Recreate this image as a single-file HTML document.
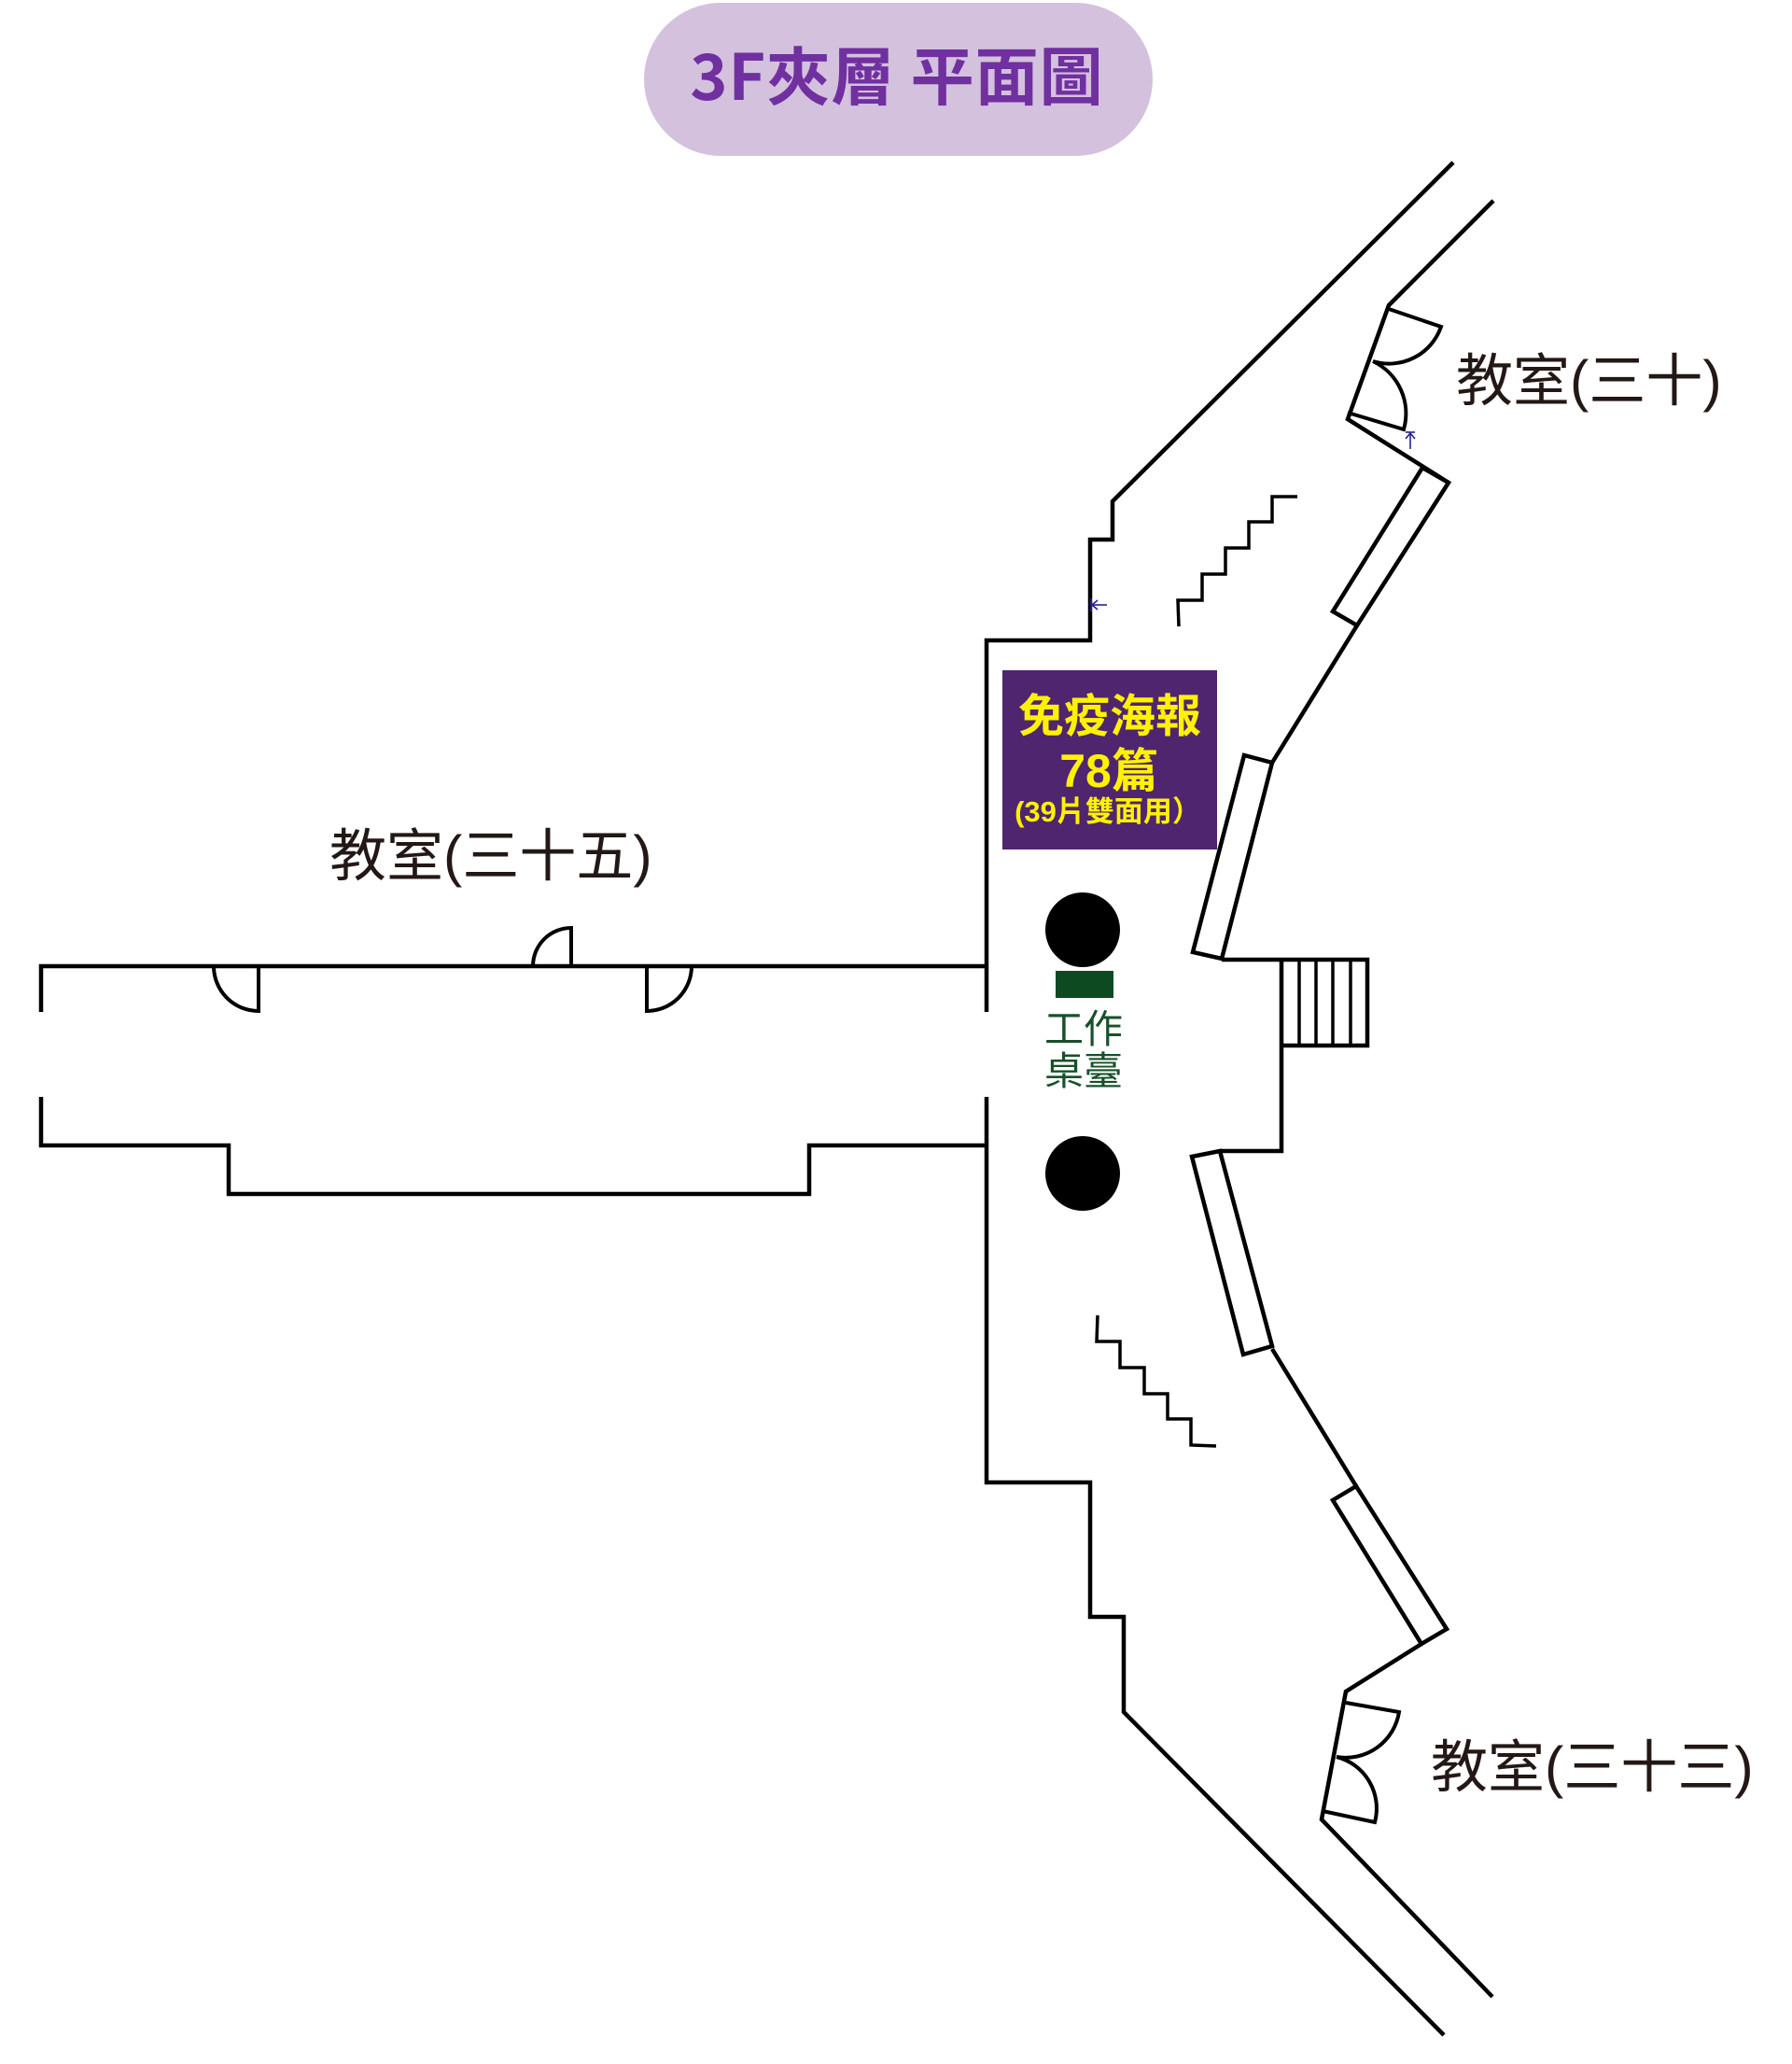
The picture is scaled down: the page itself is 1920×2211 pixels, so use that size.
<!DOCTYPE html>
<html>
<head>
<meta charset="utf-8">
<style>
html,body{margin:0;padding:0;background:#fff;}
body{width:1920px;height:2211px;overflow:hidden;}
svg{display:block;}
.w{fill:none;stroke:#000;stroke-width:4.5;stroke-linejoin:miter;stroke-linecap:butt;}
.d{fill:none;stroke:#000;stroke-width:4;}
.z{fill:none;stroke:#000;stroke-width:3.5;}
.lbl{font-family:"Liberation Sans","Noto Sans CJK TC",sans-serif;font-size:61px;fill:#231815;}
</style>
</head>
<body>
<svg width="1920" height="2211" viewBox="0 0 1920 2211" xmlns="http://www.w3.org/2000/svg">
  <!-- Title pill -->
  <rect x="690" y="3" width="545" height="164" rx="82" ry="82" fill="#d4c1dd"/>
  <text x="961" y="107" text-anchor="middle" font-family="'Noto Sans CJK TC','Liberation Sans',sans-serif" font-weight="bold" font-size="68" fill="#7030a0" letter-spacing="1">3F夾層 平面圖</text>

  <!-- Outer left/central wall upper -->
  <polyline class="w" points="1557,174 1192,537 1192,578 1168,578 1168,686 1057,686 1057,1084"/>
  <!-- Outer lower -->
  <polyline class="w" points="1057,1175 1057,1588 1168,1588 1168,1732 1204,1732 1204,1834 1547,2180"/>

  <!-- Upper right inner wall with doors -->
  <polyline class="w" points="1600,215 1488,327 1444,449 1552,517"/>
  <path class="d" d="M1488,331 L1544,350 A59,59 0 0 1 1471,387"/>
  <path class="d" d="M1444,442 L1504,460 A62,62 0 0 0 1471,387"/>
  <!-- upper right panel -->
  <polygon class="w" points="1524,501 1552,517 1454,670 1428,655"/>
  <!-- wall to left panel -->
  <polyline class="w" points="1454,670 1363,817"/>
  <!-- upper left-side panel -->
  <polygon class="w" points="1333,809 1363,817 1309,1027 1278,1020"/>
  <!-- stairs block -->
  <polyline class="w" points="1309,1028 1465,1028 1465,1120 1373,1120"/>
  <polyline class="w" points="1373,1028 1373,1233 1307,1233"/>
  <g class="z">
    <line x1="1392" y1="1028" x2="1392" y2="1120"/>
    <line x1="1410" y1="1028" x2="1410" y2="1120"/>
    <line x1="1428" y1="1028" x2="1428" y2="1120"/>
    <line x1="1447" y1="1028" x2="1447" y2="1120"/>
  </g>
  <!-- lower left-side panel -->
  <polygon class="w" points="1277,1239 1307,1233 1363,1442 1332,1451"/>
  <polyline class="w" points="1363,1445 1453,1592"/>
  <!-- lower right panel -->
  <polygon class="w" points="1428,1607 1453,1592 1550,1745 1523,1761"/>
  <!-- lower doors wall -->
  <polyline class="w" points="1523,1761 1442,1812 1416,1949 1599,2139"/>
  <path class="d" d="M1442,1824 L1499,1834 A58,58 0 0 1 1432,1882"/>
  <path class="d" d="M1417,1940 L1473,1952 A57,57 0 0 0 1432,1882"/>

  <!-- Zig-zag stairs upper -->
  <polyline class="z" points="1390,532 1363,532 1363,559 1338,559 1338,587 1313,587 1313,615 1288,615 1288,643 1262,643 1263,671"/>
  <!-- Zig-zag stairs lower -->
  <polyline class="z" points="1176,1409 1175,1437 1200,1437 1200,1465 1226,1465 1226,1493 1251,1493 1251,1520 1276,1520 1276,1548 1303,1549"/>

  <!-- Corridor (left) -->
  <polyline class="w" points="44,1084 44,1035 1057,1035"/>
  <polyline class="w" points="44,1175 44,1227 245,1227 245,1279 867,1279 867,1227 1057,1227"/>
  <path class="d" d="M277,1035 L277,1083 A48,48 0 0 1 229,1035"/>
  <path class="d" d="M612,1035 L612,994 A41,41 0 0 0 571,1035"/>
  <path class="d" d="M693,1035 L693,1083 A48,48 0 0 0 741,1035"/>

  <!-- blue arrows -->
  <g fill="none" stroke="#23238f" stroke-width="1.6">
    <line x1="1506" y1="463" x2="1516" y2="463"/>
    <line x1="1511" y1="464" x2="1511" y2="481"/>
    <polyline points="1506,470 1511,464 1516,470"/>
    <line x1="1169" y1="641" x2="1169" y2="655"/>
    <line x1="1170" y1="648" x2="1186" y2="648"/>
    <polyline points="1176,643 1170,648 1176,653"/>
  </g>

  <!-- Poster box -->
  <rect x="1074" y="718" width="230" height="192" fill="#4f2570"/>
  <text x="1189" y="784" text-anchor="middle" font-family="'Noto Sans CJK TC',sans-serif" font-weight="bold" font-size="49" fill="#fff200">免疫海報</text>
  <text x="1188" y="843" text-anchor="middle" font-family="'Liberation Sans','Noto Sans CJK TC',sans-serif" font-weight="bold" font-size="50" fill="#fff200">78篇</text>
  <text x="1187" y="880" text-anchor="middle" font-family="'Liberation Sans','Noto Sans CJK TC',sans-serif" font-weight="bold" font-size="31" fill="#fff200">(39片雙面用）</text>

  <!-- Pillars -->
  <circle cx="1160" cy="996" r="40" fill="#000"/>
  <circle cx="1160" cy="1257" r="40" fill="#000"/>
  <!-- work table -->
  <rect x="1131" y="1040" width="62" height="29" fill="#0d4a22"/>
  <text x="1161" y="1117" text-anchor="middle" font-family="'Noto Sans CJK TC',sans-serif" font-size="42" fill="#17502a">工作</text>
  <text x="1161" y="1162" text-anchor="middle" font-family="'Noto Sans CJK TC',sans-serif" font-size="42" fill="#17502a">桌臺</text>

  <!-- Labels -->
  <text class="lbl" x="1560" y="429">教室(三十)</text>
  <text class="lbl" x="1533" y="1914">教室(三十三)</text>
  <text class="lbl" x="353" y="938">教室(三十五)</text>
</svg>
</body>
</html>
